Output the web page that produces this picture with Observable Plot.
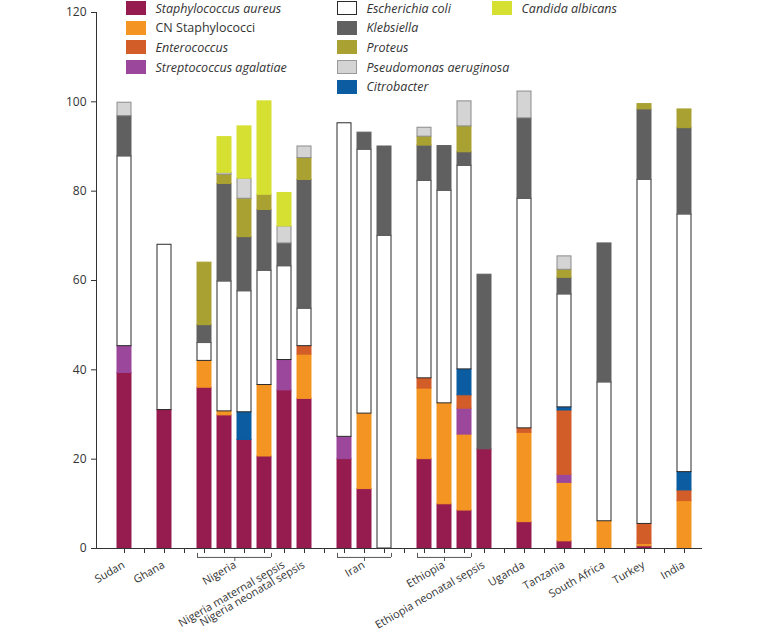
<!DOCTYPE html>
<html><head><meta charset="utf-8">
<script src="https://cdn.jsdelivr.net/npm/d3@7"></script>
<script src="https://cdn.jsdelivr.net/npm/@observablehq/plot@0.6"></script>
<style>
body{margin:0;background:#fff;font-family:"Open Sans",sans-serif;}
#wrap{position:relative;width:772px;height:643px;overflow:hidden;}
#legend{position:absolute;left:0;top:0;width:772px;height:100px;pointer-events:none;}
.item{position:absolute;display:flex;align-items:center;font-size:12.5px;color:#333;white-space:nowrap;height:14px;}
.sw{width:20px;height:14px;box-sizing:border-box;margin-right:9.5px;flex:none;}
</style></head><body><div id="wrap"><div id="chart"></div><div id="legend"></div></div>
<script>
// x slots (gaps are empty positions with ticks)
const slots = ["Sudan","gap1","Ghana","gap2","Nigeria 1","Nigeria 2","Nigeria 3","Nigeria 4","Nigeria maternal sepsis","Nigeria neonatal sepsis","gap3","Iran 1","Iran 2","Iran 3","gap4","Ethiopia 1","Ethiopia 2","Ethiopia 3","Ethiopia neonatal sepsis","gap5","Uganda","gap6","Tanzania","gap7","South Africa","gap8","Turkey","gap9","India"];
const bars = ["Sudan","Ghana","Nigeria 1","Nigeria 2","Nigeria 3","Nigeria 4","Nigeria maternal sepsis","Nigeria neonatal sepsis","Iran 1","Iran 2","Iran 3","Ethiopia 1","Ethiopia 2","Ethiopia 3","Ethiopia neonatal sepsis","Uganda","Tanzania","South Africa","Turkey","India"];

// series (legend order)
const series = ["Staphylococcus aureus","CN Staphylococci","Enterococcus","Streptococcus agalatiae","Escherichia coli","Klebsiella","Proteus","Pseudomonas aeruginosa","Citrobacter","Candida albicans"];
const seriesColors = ["#961b4f","#f49523","#d25d28","#9a479c","#ffffff","#606060","#a9a232","#d4d4d4","#0b5ca0","#d5e032"];
const seriesStrokes = ["#961b4f","#f49523","#d25d28","#9a479c","#2b2b2b","#606060","#a9a232","#8c8c8c","#0b5ca0","#d5e032"];
const seriesItalic = [true,false,true,true,true,true,true,true,true,true];
const legendColumn = [0,0,0,0,1,1,1,1,1,2];
// stacking order bottom -> top
const stackOrder = ["Staphylococcus aureus","CN Staphylococci","Streptococcus agalatiae","Enterococcus","Citrobacter","Escherichia coli","Klebsiella","Proteus","Pseudomonas aeruginosa","Candida albicans"];

// values (%), aligned with bars
const staphAureus = [39.3,31,36,29.8,24.3,20.6,35.4,33.5,20,13.3,0,20,9.9,8.5,22.2,5.9,1.6,0,0.5,0];
const cnStaph     = [0,0,6,0.9,0,16,0,9.9,0,16.9,0,15.8,22.6,17,0,20,13.1,6.1,0.5,10.6];
const strepAgal   = [6,0,0,0,0,0,6.8,0,5,0,0,0,0,5.8,0,0,1.8,0,0,0];
const enterococcus= [0,0,0,0,0,0,0,1.9,0,0,0,2.3,0,3,0,1,14.4,0,4.5,2.4];
const citrobacter = [0,0,0,0,6.2,0,0,0,0,0,0,0,0,5.8,0,0,0.7,0,0,4.1];
const eColi       = [42.5,37,4,29.1,27.1,25.6,21,8.4,70.2,59.1,70,44.2,47.6,45.6,0,51.4,25.3,31.1,77,57.7];
const klebsiella  = [9,0,4,21.8,12.1,13.6,5.1,28.8,0,3.8,20,7.9,10,3,39.1,18,3.7,31.1,15.8,19.3];
const proteus     = [0,0,14,2.1,8.6,3.4,0,4.9,0,0,0,2,0,5.8,0,0,1.8,0,1.2,4.2];
const pseudomonas = [3,0,0,0.4,4.5,0,3.8,2.6,0,0,0,2,0,5.6,0,6,3,0,0,0];
const candida     = [0,0,0,8.0,11.7,20.9,7.5,0,0,0,0,0,0,0,0,0,0,0,0,0];

const valuesBySeries = {
  "Staphylococcus aureus": staphAureus,
  "CN Staphylococci": cnStaph,
  "Streptococcus agalatiae": strepAgal,
  "Enterococcus": enterococcus,
  "Citrobacter": citrobacter,
  "Escherichia coli": eColi,
  "Klebsiella": klebsiella,
  "Proteus": proteus,
  "Pseudomonas aeruginosa": pseudomonas,
  "Candida albicans": candida
};

// axis labels
const xLabels = [
  {slot:"Sudan",label:"Sudan"},
  {slot:"Ghana",label:"Ghana"},
  {slot:"Nigeria maternal sepsis",label:"Nigeria maternal sepsis"},
  {slot:"Nigeria neonatal sepsis",label:"Nigeria neonatal sepsis"},
  {slot:"Iran 2",label:"Iran"},
  {slot:"Ethiopia 2",label:"Ethiopia"},
  {slot:"Ethiopia neonatal sepsis",label:"Ethiopia neonatal sepsis"},
  {slot:"Uganda",label:"Uganda"},
  {slot:"Tanzania",label:"Tanzania"},
  {slot:"South Africa",label:"South Africa"},
  {slot:"Turkey",label:"Turkey"},
  {slot:"India",label:"India"}
];
const nigeriaLabel = [{slot:"Nigeria 2",label:"Nigeria"}];
const groups = [
  {first:"Nigeria 1",last:"Nigeria 4"},
  {first:"Iran 1",last:"Iran 3"},
  {first:"Ethiopia 1",last:"Ethiopia 3"}
];
const groupCenters = [{slot:"Iran 2"},{slot:"Ethiopia 2"}];
const nigeriaCenter = [{slot:"Nigeria 2"}];
const yTicks = [0,20,40,60,80,100,120];

// build table
const colorOf = Object.fromEntries(series.map((s,i)=>[s,seriesColors[i]]));
const strokeOf = Object.fromEntries(series.map((s,i)=>[s,seriesStrokes[i]]));
const rows = [];
bars.forEach((b,bi)=>{
  stackOrder.forEach(s=>{
    const v = valuesBySeries[s][bi];
    if (v > 0) rows.push({slot:b, series:s, value:v});
  });
});

const axisColor = "#333";
const plot = Plot.plot({
  width: 772,
  height: 643,
  marginTop: 12,
  marginBottom: 95,
  marginLeft: 96,
  marginRight: 70,
  style: {fontFamily: "'Open Sans', sans-serif", fontSize: "12px", color: "#333", background: "#fff"},
  x: {domain: slots, paddingInner: 0.32, paddingOuter: 0.32, insetLeft: 4.35, insetRight: -4.7, tickSize: 5, tickFormat: () => "", label: null},
  y: {domain: [0,120], ticks: yTicks, tickSize: 5, tickPadding: 5, label: null},
  color: {type: "identity"},
  marks: [
    Plot.barY(rows, {x: "slot", y: "value", fill: d => colorOf[d.series], stroke: d => strokeOf[d.series], strokeWidth: 1}),
    Plot.ruleY([0], {stroke: axisColor}),
    Plot.frame({anchor: "left", stroke: axisColor}),
    // group brackets
    Plot.ruleY(groups, {x1: "first", x2: "last", y: () => -2, stroke: "#555"}),
    Plot.ruleX(groups, {x: "first", y1: () => -1.1, y2: () => -2, dx: -7, stroke: "#555"}),
    Plot.ruleX(groups, {x: "last", y1: () => -1.1, y2: () => -2, dx: 7, stroke: "#555"}),
    Plot.ruleX(groupCenters, {x: "slot", y1: () => -2, y2: () => -2.9, stroke: "#555"}),
    Plot.ruleX(nigeriaCenter, {x: "slot", y1: () => -2, y2: () => -2.9, dx: 10.3, stroke: "#555"}),
    // category labels
    Plot.text(xLabels, {x: "slot", y: () => 0, text: "label", rotate: -30, textAnchor: "end", lineAnchor: "bottom", dy: 18.5, dx: 1, fill: "#333", fontSize: 11}),
    Plot.text(nigeriaLabel, {x: "slot", y: () => 0, text: "label", rotate: -30, textAnchor: "end", lineAnchor: "bottom", dy: 18.5, dx: 12.5, fill: "#333", fontSize: 11})
  ]
});
document.getElementById("chart").appendChild(plot);

// legend overlay
const legend = document.getElementById("legend");
const colLeft = [126, 337, 492];
const colCount = [0,0,0];
series.forEach((s,i)=>{
  const c = legendColumn[i];
  const row = colCount[c]++;
  const item = document.createElement("div");
  item.className = "item";
  item.style.left = colLeft[c] + "px";
  item.style.top = (1 + row*19.7) + "px";
  const sw = document.createElement("div");
  sw.className = "sw";
  sw.style.background = seriesColors[i];
  sw.style.border = "1px solid " + (s === "Escherichia coli" ? "#2b2b2b" : s === "Pseudomonas aeruginosa" ? "#9a9a9a" : seriesColors[i]);
  const tx = document.createElement("span");
  tx.textContent = s;
  if (seriesItalic[i]) tx.style.fontStyle = "italic";
  item.appendChild(sw); item.appendChild(tx);
  legend.appendChild(item);
});
</script>
</body></html>
